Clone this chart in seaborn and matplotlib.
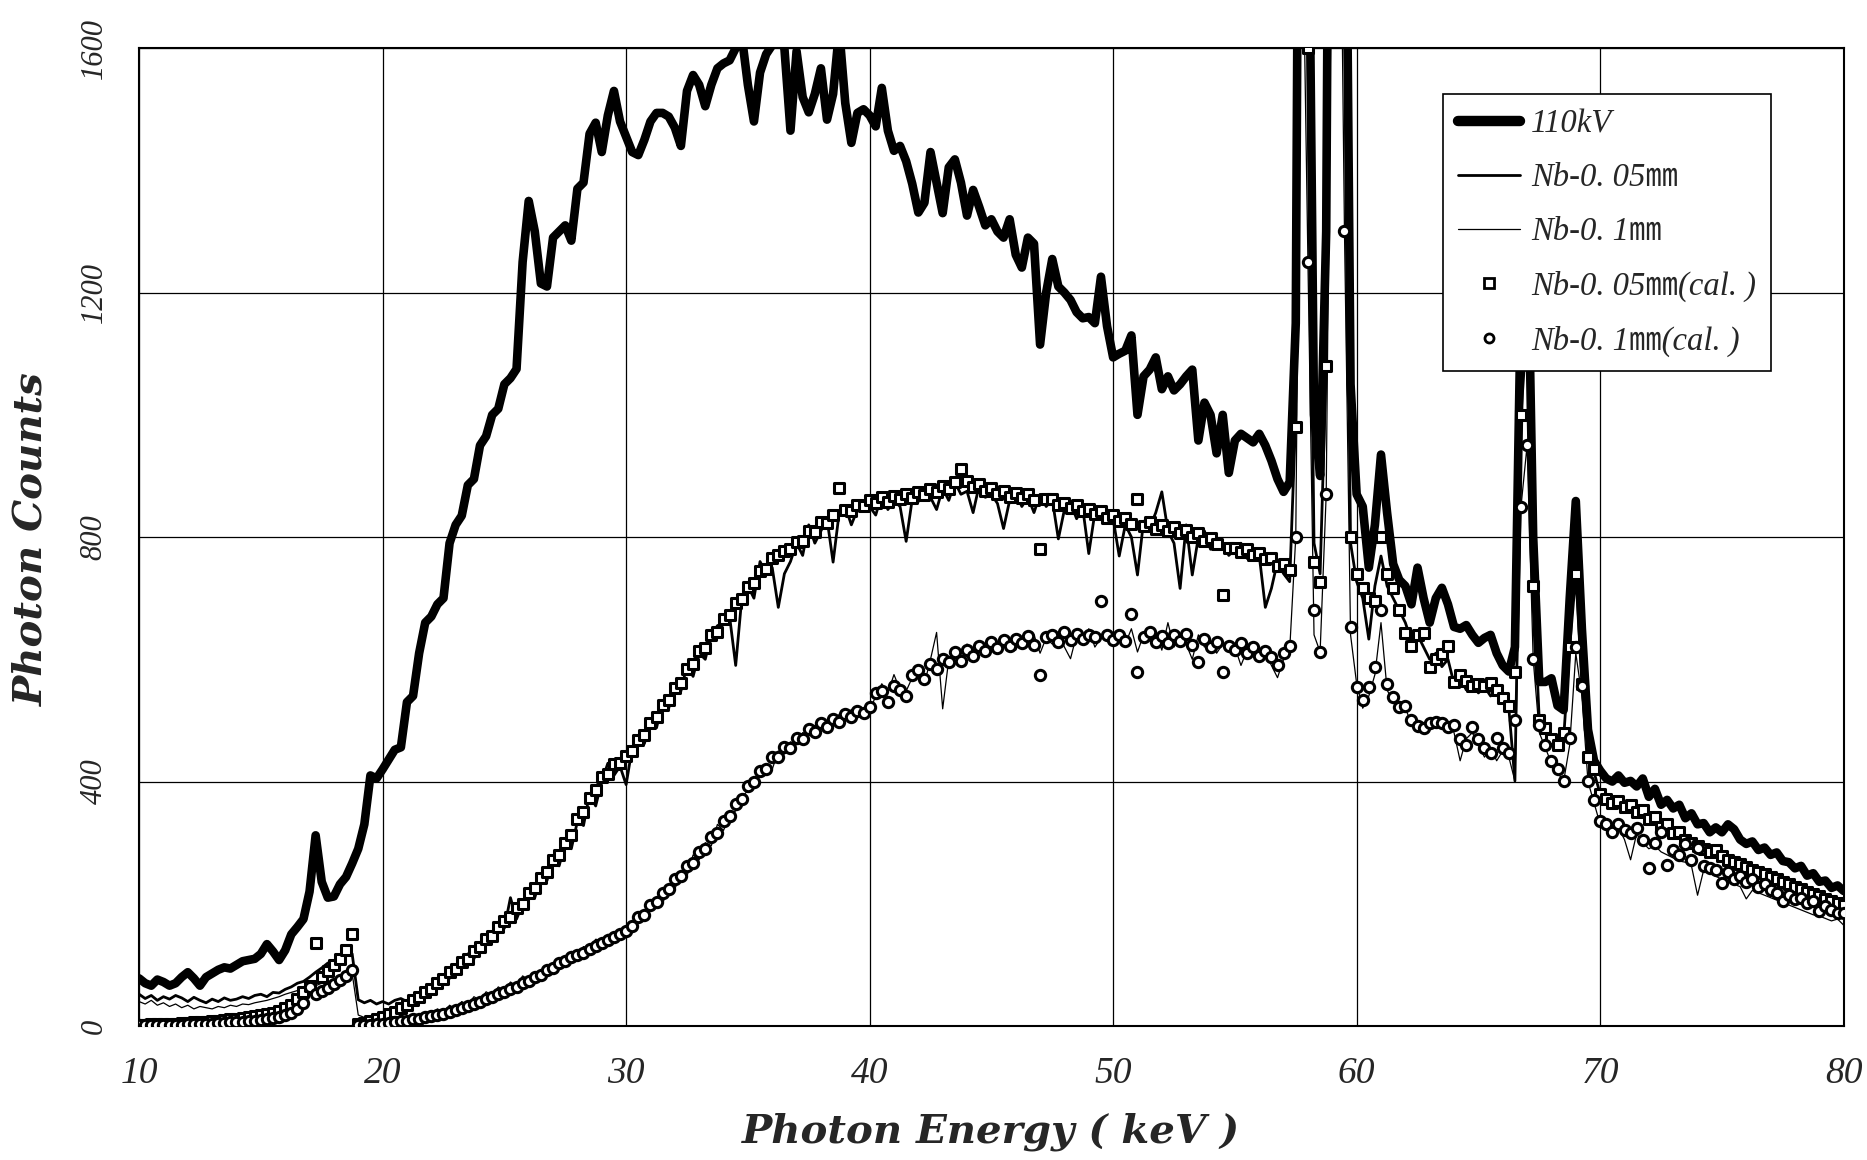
import numpy as np
import pandas as pd
import matplotlib.pyplot as plt
from matplotlib.lines import Line2D
import seaborn as sns

# energy channels, 0.25 keV apart
energy = np.arange(10, 80.001, 0.25)

kv110 = [
    78, 70, 66, 76, 72, 66, 70, 80, 88, 78, 66, 80, 86, 92, 96, 94, 100, 106, 108, 110,
    118, 134, 122, 108, 124, 150, 162, 175, 220, 312, 236, 210, 212, 232, 244, 266, 290, 330, 410, 405,
    420, 436, 452, 456, 530, 540, 610, 660, 670, 690, 700, 790, 820, 835, 885, 895, 950, 965, 1000, 1010,
    1050, 1060, 1075, 1250, 1350, 1300, 1215, 1210, 1290, 1300, 1310, 1285, 1370, 1380, 1460, 1478, 1430, 1490, 1530, 1480,
    1455, 1430, 1425, 1450, 1480, 1494, 1494, 1488, 1470, 1440, 1530, 1556, 1540, 1505, 1540, 1567, 1575, 1580, 1600, 1620,
    1540, 1480, 1560, 1590, 1605, 1615, 1600, 1465, 1595, 1520, 1495, 1525, 1567, 1483, 1525, 1630, 1510, 1445, 1494, 1500,
    1490, 1472, 1535, 1465, 1432, 1440, 1415, 1378, 1331, 1347, 1430, 1380, 1330, 1405, 1418, 1380, 1326, 1368, 1340, 1310,
    1320, 1300, 1290, 1320, 1262, 1241, 1290, 1280, 1115, 1200, 1255, 1210, 1200, 1188, 1168, 1158, 1160, 1150, 1226, 1145,
    1094, 1100, 1105, 1130, 1000, 1063, 1074, 1094, 1042, 1063, 1040, 1050, 1063, 1074, 958, 1020, 1000, 937, 1000, 905,
    958, 969, 962, 955, 969, 950, 925, 895, 874, 890, 1150, 3000, 2000, 1000, 900, 1300, 3000, 3500, 2200, 1050,
    870, 850, 750, 820, 935, 840, 756, 730, 720, 690, 750, 700, 660, 700, 717, 690, 653, 650, 656, 640,
    627, 635, 640, 610, 590, 580, 620, 1200, 1350, 800, 563, 563, 569, 524, 517, 700, 859, 650, 485, 434,
    418, 405, 400, 410, 398, 401, 392, 405, 375, 388, 362, 370, 356, 362, 340, 348, 330, 332, 317, 325,
    317, 330, 322, 305, 298, 302, 288, 292, 280, 284, 270, 268, 258, 262, 246, 250, 236, 238, 226, 230,
    221,
]

nb005 = [
    52, 45, 50, 42, 48, 44, 50, 46, 40, 47, 42, 38, 44, 40, 46, 42, 44, 48, 45, 50,
    52, 48, 55, 54, 60, 64, 70, 73, 80, 88, 95, 103, 105, 112, 124, 118, 43, 38, 42, 36,
    40, 36, 42, 45, 40, 48, 52, 60, 58, 72, 80, 78, 100, 96, 118, 110, 132, 150, 142, 165,
    160, 210, 175, 200, 225, 210, 245, 238, 275, 262, 300, 290, 335, 328, 380, 360, 400, 430, 410, 425,
    395, 455, 470, 462, 500, 488, 530, 520, 560, 548, 590, 572, 610, 600, 640, 655, 660, 670, 590, 700,
    720, 700, 760, 740, 750, 685, 740, 760, 790, 770, 820, 790, 810, 830, 759, 840, 850, 820, 845, 860,
    850, 836, 870, 845, 860, 850, 793, 862, 858, 875, 865, 845, 880, 860, 890, 870, 875, 840, 885, 865,
    870, 855, 814, 860, 875, 850, 866, 840, 870, 850, 862, 797, 845, 856, 830, 848, 773, 840, 832, 845,
    830, 769, 820, 800, 738, 826, 815, 840, 874, 810, 790, 716, 820, 738, 800, 810, 780, 795, 790, 770,
    780, 790, 765, 775, 770, 685, 716, 760, 740, 727, 1000, 2400, 1600, 790, 740, 1080, 2400, 2800, 1700, 790,
    727, 700, 633, 720, 769, 720, 700, 680, 660, 630, 640, 620, 600, 610, 588, 600, 560, 570, 550, 560,
    545, 555, 540, 548, 530, 520, 401, 1000, 1150, 720, 500, 480, 470, 455, 470, 620, 740, 560, 440, 415,
    380, 370, 362, 366, 355, 360, 345, 352, 335, 340, 325, 328, 312, 318, 302, 298, 290, 292, 282, 285,
    275, 272, 265, 262, 258, 252, 250, 245, 242, 238, 234, 230, 226, 222, 218, 214, 210, 206, 202, 200,
    196,
]

nb01 = [
    40, 36, 42, 34, 38, 32, 36, 30, 34, 28, 32, 30, 28, 32, 30, 34, 32, 36, 35, 38,
    40, 42, 45, 48, 52, 55, 58, 60, 62, 66, 70, 72, 74, 78, 82, 86, 18, 14, 16, 12,
    10, 14, 9, 16, 12, 18, 14, 22, 18, 28, 22, 34, 28, 40, 34, 48, 42, 56, 50, 64,
    58, 72, 66, 82, 76, 88, 86, 98, 96, 110, 106, 122, 118, 130, 128, 142, 140, 150, 148, 158,
    155, 172, 168, 190, 188, 210, 200, 230, 224, 250, 245, 280, 272, 300, 295, 330, 320, 345, 352, 375,
    385, 400, 410, 425, 420, 450, 445, 465, 460, 480, 478, 492, 485, 500, 496, 510, 505, 518, 512, 520,
    515, 540, 560, 545, 575, 550, 548, 570, 585, 560, 600, 644, 519, 600, 605, 595, 625, 600, 628, 610,
    630, 615, 640, 620, 615, 635, 630, 640, 610, 635, 625, 645, 620, 601, 640, 630, 650, 620, 635, 645,
    630, 640, 625, 650, 612, 640, 630, 645, 615, 660, 620, 640, 625, 600, 640, 620, 630, 610, 625, 615,
    620, 590, 615, 625, 600, 610, 590, 570, 600, 615, 800, 1900, 1250, 640, 612, 870, 1900, 2200, 1300, 640,
    560, 520, 540, 575, 660, 550, 530, 515, 520, 495, 485, 480, 490, 500, 488, 495, 480, 434, 470, 480,
    460, 440, 455, 434, 450, 440, 401, 850, 950, 600, 480, 455, 430, 415, 400, 460, 610, 540, 400, 365,
    330, 320, 310, 325, 305, 272, 315, 300, 290, 295, 285, 280, 275, 270, 268, 262, 214, 255, 250, 245,
    240, 236, 232, 228, 208, 222, 218, 214, 210, 206, 202, 198, 194, 190, 186, 182, 180, 176, 172, 175,
    165,
]

nb005_cal = [
    2, 2, 3, 3, 3, 4, 4, 5, 5, 6, 6, 7, 8, 9, 10, 11, 12, 13, 15, 16,
    18, 20, 22, 25, 30, 35, 45, 55, 65, 136, 80, 90, 100, 110, 125, 150, 3, 5, 8, 11,
    15, 20, 23, 30, 34, 42, 47, 56, 61, 71, 77, 88, 94, 104, 110, 123, 129, 142, 148, 162,
    172, 178, 193, 200, 218, 226, 243, 252, 271, 280, 299, 312, 338, 350, 373, 386, 408, 413, 428, 430,
    442, 450, 468, 476, 495, 505, 525, 534, 553, 562, 584, 592, 614, 619, 640, 645, 666, 672, 692, 698,
    718, 725, 744, 748, 765, 770, 778, 780, 792, 794, 810, 808, 824, 823, 836, 881, 844, 842, 853, 851,
    860, 856, 866, 858, 868, 862, 871, 864, 874, 869, 878, 873, 884, 878, 890, 912, 891, 882, 887, 876,
    880, 871, 876, 866, 872, 864, 870, 860, 780, 862, 862, 852, 856, 848, 852, 842, 846, 838, 842, 832,
    836, 826, 832, 822, 863, 818, 824, 814, 820, 810, 816, 806, 812, 800, 806, 794, 798, 788, 706, 782,
    782, 776, 780, 770, 774, 764, 766, 752, 756, 746, 980, 2400, 1600, 760, 727, 1080, 2400, 2800, 1700, 800,
    740, 716, 700, 695, 800, 740, 716, 680, 643, 622, 640, 643, 588, 600, 608, 621, 563, 575, 565, 556,
    560, 556, 562, 550, 537, 524, 580, 1000, 1150, 720, 500, 488, 470, 459, 480, 620, 740, 560, 440, 421,
    380, 372, 365, 368, 358, 362, 350, 354, 338, 342, 326, 330, 315, 318, 305, 300, 295, 290, 285, 288,
    278, 272, 268, 265, 260, 255, 252, 248, 244, 240, 236, 232, 228, 224, 220, 216, 212, 208, 205, 202,
    198,
]

nb01_cal = [
    1, 1, 1, 1, 2, 2, 2, 2, 3, 3, 3, 4, 4, 5, 5, 6, 6, 7, 8, 9,
    10, 11, 13, 15, 18, 22, 28, 38, 64, 52, 58, 62, 68, 75, 82, 92, 1, 2, 2, 3,
    4, 5, 6, 8, 9, 11, 12, 14, 16, 18, 20, 23, 26, 29, 33, 36, 40, 44, 48, 52,
    56, 61, 64, 71, 73, 80, 83, 91, 95, 103, 107, 113, 117, 120, 126, 131, 136, 141, 146, 151,
    156, 163, 178, 182, 198, 203, 218, 224, 241, 246, 262, 266, 284, 289, 309, 315, 336, 343, 364, 372,
    393, 399, 418, 421, 440, 440, 457, 455, 472, 470, 486, 481, 495, 489, 503, 498, 511, 505, 516, 512,
    522, 545, 548, 530, 556, 550, 540, 575, 582, 568, 592, 584, 600, 596, 612, 598, 616, 606, 622, 614,
    628, 618, 632, 622, 634, 626, 638, 624, 575, 636, 640, 628, 644, 632, 642, 634, 640, 636, 695, 640,
    632, 640, 630, 674, 580, 636, 644, 628, 638, 626, 640, 630, 642, 624, 596, 634, 620, 628, 580, 622,
    616, 626, 610, 620, 606, 614, 604, 590, 610, 622, 800, 1900, 1250, 680, 612, 870, 1900, 2200, 1300, 653,
    554, 533, 554, 588, 680, 560, 538, 522, 524, 500, 491, 488, 496, 498, 495, 490, 492, 470, 459, 490,
    470, 455, 446, 472, 455, 446, 500, 850, 950, 600, 492, 460, 434, 421, 401, 472, 620, 556, 401, 369,
    335, 330, 317, 330, 320, 316, 324, 305, 259, 300, 317, 263, 288, 280, 298, 272, 292, 262, 258, 255,
    234, 252, 240, 246, 236, 240, 227, 232, 222, 218, 205, 215, 208, 210, 201, 204, 188, 196, 190, 185,
    185,
]

labels = ["110kV", "Nb-0. 05㎜", "Nb-0. 1㎜", "Nb-0. 05㎜(cal. )", "Nb-0. 1㎜(cal. )"]
x_ticks = [10, 20, 30, 40, 50, 60, 70, 80]
y_ticks = [0, 400, 800, 1200, 1600]

for s in (kv110, nb005, nb01, nb005_cal, nb01_cal):
    assert len(s) == len(energy), len(s)

df = pd.DataFrame({
    "energy": energy,
    "kv110": kv110,
    "nb005": nb005,
    "nb01": nb01,
    "nb005_cal": nb005_cal,
    "nb01_cal": nb01_cal,
})

sns.set_style("white")
plt.rcParams["font.family"] = ["Liberation Serif", "Noto Sans CJK JP"]

fig = plt.figure(figsize=(18.67, 11.6), dpi=100)
ax = fig.add_axes([0.0745, 0.1155, 0.913, 0.843])

sns.lineplot(data=df, x="energy", y="kv110", color="black", linewidth=6.2,
             estimator=None, sort=False, ax=ax, zorder=2)
sns.lineplot(data=df, x="energy", y="nb005", color="black", linewidth=2.0,
             estimator=None, sort=False, ax=ax, zorder=2)
sns.lineplot(data=df, x="energy", y="nb01", color="black", linewidth=0.9,
             estimator=None, sort=False, ax=ax, zorder=2)
sns.scatterplot(data=df, x="energy", y="nb005_cal", marker="s", s=55,
                facecolor="white", edgecolor="black", linewidth=2.2, ax=ax, zorder=3)
sns.scatterplot(data=df, x="energy", y="nb01_cal", marker="o", s=55,
                facecolor="white", edgecolor="black", linewidth=2.2, ax=ax, zorder=3)

ax.set_xlim(10, 80)
ax.set_ylim(0, 1600)
ax.set_xticks(x_ticks)
ax.set_yticks(y_ticks)
ax.set_xticklabels([str(t) for t in x_ticks], fontstyle="italic", fontsize=27)
ax.set_yticklabels([str(t) for t in y_ticks], fontstyle="italic", fontsize=22,
                   rotation=90, va="center")
ax.tick_params(axis="x", length=0, pad=22)
ax.tick_params(axis="y", length=0, pad=22)
ax.grid(True, color="black", linewidth=0.9)
for sp in ax.spines.values():
    sp.set_color("black")
    sp.set_linewidth(1.5)

ax.set_xlabel("Photon Energy ( keV )", fontsize=29, fontweight="bold",
              fontstyle="italic", family="DejaVu Serif")
ax.set_ylabel("Photon Counts", fontsize=29, fontweight="bold",
              fontstyle="italic", family="DejaVu Serif")
ax.xaxis.set_label_coords(0.5, -0.088)
ax.yaxis.set_label_coords(-0.052, 0.498)

handles = [
    Line2D([], [], color="black", linewidth=7.5, solid_capstyle="round"),
    Line2D([], [], color="black", linewidth=2.0),
    Line2D([], [], color="black", linewidth=0.9),
    Line2D([], [], linestyle="", marker="s", markersize=6.5, mfc="white",
           mec="black", mew=2.0),
    Line2D([], [], linestyle="", marker="o", markersize=6.5, mfc="white",
           mec="black", mew=2.0),
]
leg = ax.legend(handles, labels, loc="upper left", bbox_to_anchor=(0.765, 0.953),
                borderaxespad=0, frameon=True, fancybox=False, framealpha=1,
                edgecolor="black", handlelength=1.9, handletextpad=0.35,
                labelspacing=0.72, borderpad=0.45,
                prop={"size": 23.5, "style": "italic",
                      "family": ["Liberation Serif", "Noto Sans CJK JP"]})
leg.get_frame().set_linewidth(1.2)
leg.set_zorder(5)

fig.savefig("out.png", dpi=100)
